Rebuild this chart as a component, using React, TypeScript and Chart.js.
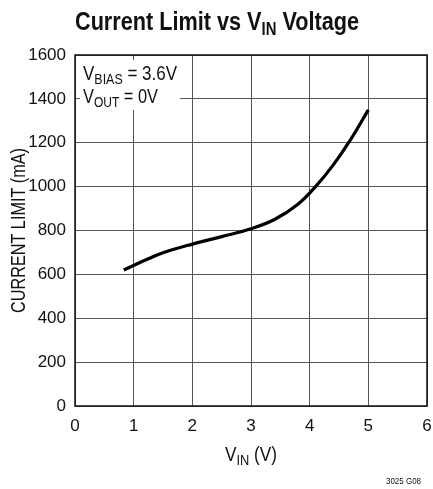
import React, { useEffect, useRef } from "react";
import { Chart, registerables } from "chart.js";

Chart.register(...registerables);

const vinValues = [0.83, 1.0, 1.25, 1.5, 2.0, 2.5, 3.0, 3.4, 3.8, 4.1, 4.4, 4.7, 5.0];
const currentLimit = [620, 641, 671, 699, 738, 772, 808, 850, 920, 1000, 1098, 1215, 1350];
const xTicks = [0, 1, 2, 3, 4, 5, 6];
const yTicks = [0, 200, 400, 600, 800, 1000, 1200, 1400, 1600];

const FONT = '"Liberation Sans", Arial, Helvetica, sans-serif';

type Part = [string, string, number];

function drawParts(
  ctx: CanvasRenderingContext2D,
  parts: Part[],
  x: number,
  y: number,
  align: "left" | "center" | "right",
  fitWidth?: number
) {
  ctx.save();
  ctx.textBaseline = "alphabetic";
  ctx.textAlign = "left";
  let total = 0;
  const widths = parts.map(([t, f]) => {
    ctx.font = f;
    const w = ctx.measureText(t).width;
    total += w;
    return w;
  });
  const sx = fitWidth ? fitWidth / total : 1;
  const drawnW = total * sx;
  let start = x;
  if (align === "center") start = x - drawnW / 2;
  else if (align === "right") start = x - drawnW;
  ctx.translate(start, y);
  ctx.scale(sx, 1);
  let cx = 0;
  parts.forEach(([t, f, dy], i) => {
    ctx.font = f;
    ctx.fillText(t, cx, dy);
    cx += widths[i];
  });
  ctx.restore();
}

const decorPlugin = {
  id: "decor",
  beforeDatasetsDraw(chart: any) {
    const ctx: CanvasRenderingContext2D = chart.ctx;
    const { left, top, right, bottom } = chart.chartArea;
    ctx.save();
    ctx.fillStyle = "#ffffff";
    ctx.fillRect(left + 5, top + 5, 100, 50);
    ctx.strokeStyle = "#111";
    ctx.lineWidth = 1.5;
    ctx.strokeRect(left, top, right - left, bottom - top);
    ctx.restore();
  },
  afterDraw(chart: any) {
    const ctx: CanvasRenderingContext2D = chart.ctx;
    const { left, top, right, bottom } = chart.chartArea;
    ctx.save();
    ctx.fillStyle = "#111";
    drawParts(
      ctx,
      [
        ["Current Limit vs V", `bold 25.5px ${FONT}`, 0],
        ["IN", `bold 17.5px ${FONT}`, 5],
        [" Voltage", `bold 25.5px ${FONT}`, 0],
      ],
      217,
      30,
      "center",
      284
    );
    drawParts(
      ctx,
      [
        ["V", `20.5px ${FONT}`, 0],
        ["BIAS", `15px ${FONT}`, 4],
        [" = 3.6V", `20.5px ${FONT}`, 0],
      ],
      left + 8,
      top + 25,
      "left",
      94
    );
    drawParts(
      ctx,
      [
        ["V", `20.5px ${FONT}`, 0],
        ["OUT", `15px ${FONT}`, 4],
        [" = 0V", `20.5px ${FONT}`, 0],
      ],
      left + 8,
      top + 48,
      "left",
      75
    );
    drawParts(
      ctx,
      [
        ["V", `20px ${FONT}`, 0],
        ["IN", `15px ${FONT}`, 4],
        [" (V)", `20px ${FONT}`, 0],
      ],
      (left + right) / 2,
      461,
      "center",
      52
    );
    ctx.save();
    ctx.translate(25, (top + bottom) / 2);
    ctx.rotate(-Math.PI / 2);
    drawParts(ctx, [["CURRENT LIMIT (mA)", `19.5px ${FONT}`, 0]], 0, 0, "center", 165);
    ctx.restore();
    drawParts(ctx, [["3025 G08", `9.5px ${FONT}`, 0]], 421, 484, "right", 35);
    ctx.restore();
  },
};

export default function App() {
  const ref = useRef<HTMLCanvasElement | null>(null);
  useEffect(() => {
    document.body.style.margin = "0";
    const canvas = ref.current!;
    const chart = new Chart(canvas, {
      type: "line",
      data: {
        datasets: [
          {
            data: vinValues.map((x, i) => ({ x, y: currentLimit[i] })),
            borderColor: "#000",
            borderWidth: 3.2,
            pointRadius: 0,
            tension: 0.4,
            fill: false,
          },
        ],
      },
      options: {
        responsive: false,
        animation: false,
        events: [],
        layout: { padding: { top: 55, right: 6, bottom: 0, left: 0 } },
        plugins: { legend: { display: false }, tooltip: { enabled: false }, title: { display: false } },
        scales: {
          x: {
            type: "linear",
            min: xTicks[0],
            max: xTicks[xTicks.length - 1],
            afterBuildTicks: (s: any) => {
              s.ticks = xTicks.map((v) => ({ value: v }));
            },
            afterFit: (s: any) => {
              s.height = 83;
            },
            ticks: {
              color: "#111",
              font: { family: FONT, size: 17 },
              padding: 0,
              maxRotation: 0,
              callback: (v: any) => String(v),
            },
            grid: { color: "#555", lineWidth: 1, drawTicks: true, tickLength: 10, tickColor: "rgba(0,0,0,0)" },
            border: { display: false },
          },
          y: {
            min: yTicks[0],
            max: yTicks[yTicks.length - 1],
            afterBuildTicks: (s: any) => {
              s.ticks = yTicks.map((v) => ({ value: v }));
            },
            afterFit: (s: any) => {
              s.width = 75;
            },
            ticks: {
              color: "#111",
              font: { family: FONT, size: 17 },
              padding: 9,
              callback: (v: any) => String(v),
            },
            grid: { color: "#555", lineWidth: 1, drawTicks: false },
            border: { display: false },
          },
        },
      },
      plugins: [decorPlugin],
    } as any);
    return () => chart.destroy();
  }, []);
  return (
    <canvas
      ref={ref}
      width={433}
      height={489}
      style={{ display: "block", position: "fixed", left: 0, top: 0, width: 433, height: 489 }}
    />
  );
}
